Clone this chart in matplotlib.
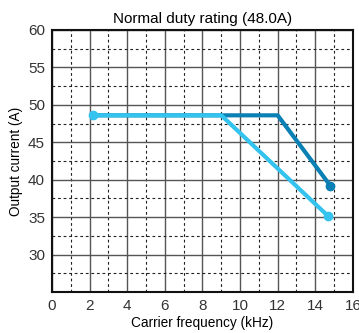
import matplotlib.pyplot as plt
from matplotlib.ticker import MultipleLocator

plt.rcParams['font.family'] = ['Liberation Sans', 'DejaVu Sans']

# Derating curves (carrier frequency kHz vs output current A)
freq_dark = [2.2, 12.0, 14.8]
curr_dark = [48.6, 48.6, 39.2]
freq_light = [2.2, 9.0, 14.7]
curr_light = [48.6, 48.6, 35.1]

x_ticks = [0, 2, 4, 6, 8, 10, 12, 14, 16]
y_ticks = [30, 35, 40, 45, 50, 55, 60]

fig = plt.figure(figsize=(3.59, 3.33), dpi=100)
ax = fig.add_axes([0.145, 0.123, 0.838, 0.787])

ax.set_xlim(0, 16)
ax.set_ylim(25, 60)
ax.set_xticks(x_ticks)
ax.set_yticks(y_ticks)
ax.xaxis.set_minor_locator(MultipleLocator(1))
ax.yaxis.set_minor_locator(MultipleLocator(2.5))

ax.grid(which='major', color='#555555', linewidth=1.0, linestyle='-')
ax.grid(which='minor', color='#222222', linewidth=0.8, linestyle=(0, (2.5, 2.5)))
ax.set_axisbelow(True)

ax.plot(freq_dark, curr_dark, color='#0a80b4', linewidth=3, solid_capstyle='round', zorder=3)
ax.plot(freq_dark[-1], curr_dark[-1], 'o', color='#0a80b4', markersize=6, zorder=4)
ax.plot(freq_light, curr_light, color='#34c3ee', linewidth=3, solid_capstyle='round', zorder=5)
ax.plot([freq_light[0], freq_light[-1]], [curr_light[0], curr_light[-1]], 'o',
        color='#34c3ee', markersize=6, zorder=6)

ax.tick_params(which='both', length=0, labelsize=11, colors='#333333', pad=5)
for s in ax.spines.values():
    s.set_linewidth(1.5)
    s.set_color('#111111')

ax.set_title('Normal duty rating (48.0A)', fontsize=11, pad=5)
ax.set_xlabel('Carrier frequency (kHz)', fontsize=9.8, labelpad=2)
ax.set_ylabel('Output current (A)', fontsize=9.8, labelpad=4)

fig.savefig('out.png', dpi=100)
